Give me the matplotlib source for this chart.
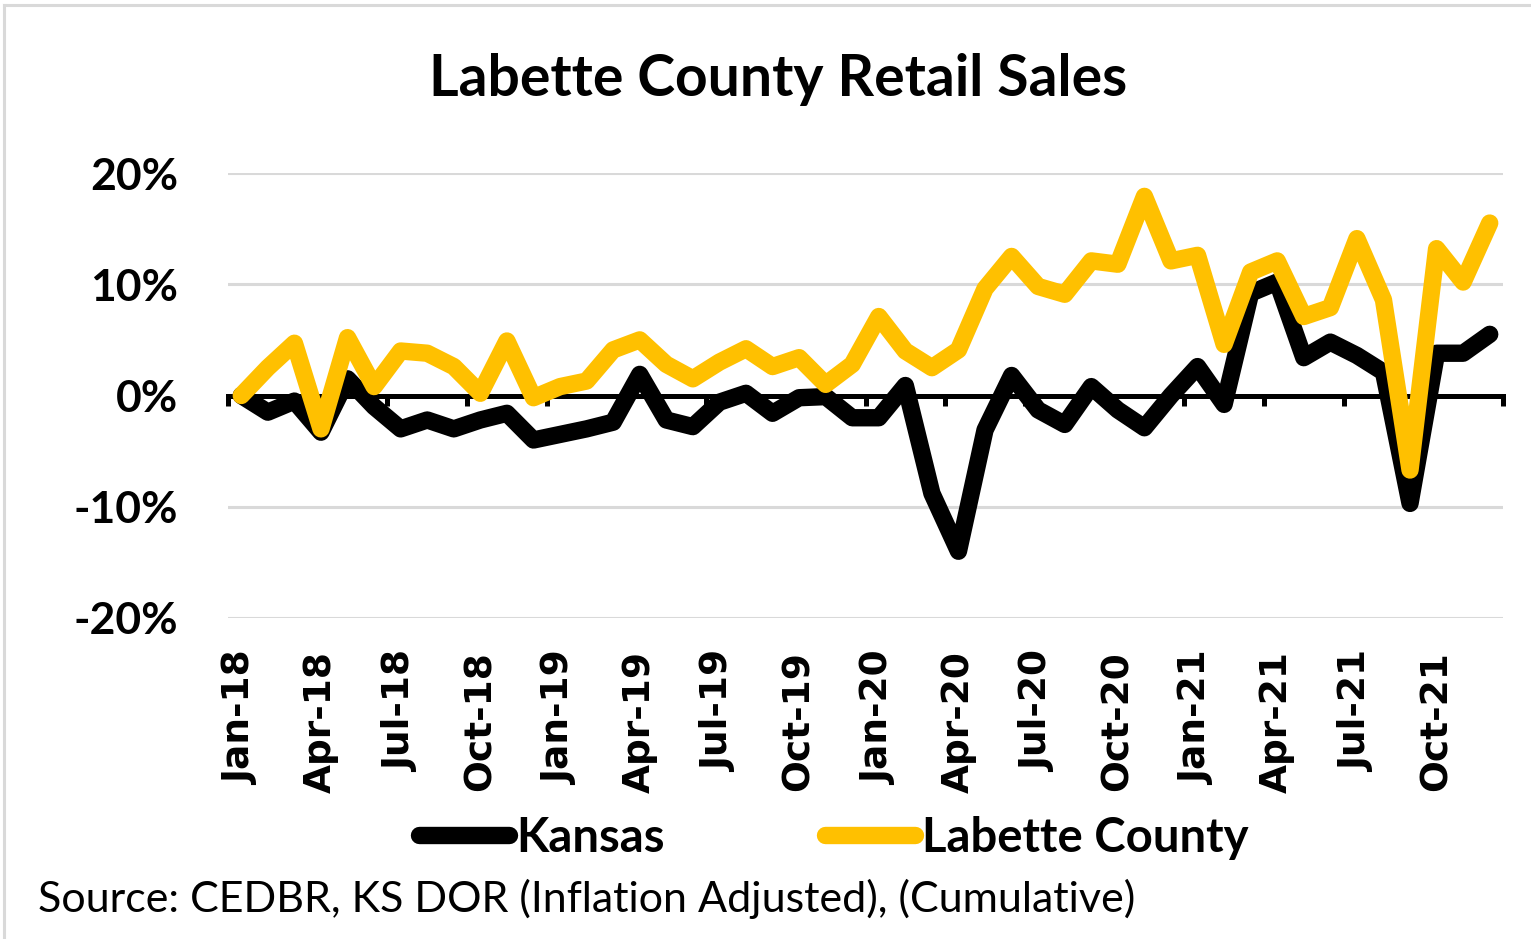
import numpy as np
import pandas as pd
import matplotlib
matplotlib.use('Agg')
import matplotlib.pyplot as plt
from matplotlib.lines import Line2D

# monthly cumulative retail sales change (%), Jan-18 .. Dec-21
months = list(pd.date_range('2018-01-01', periods=48, freq='MS').strftime('%b-%y'))

kansas = [0, -1.5, -0.5, -3.3, 1.5, -1.0, -3.0, -2.2, -3.0, -2.2,
          -1.6, -4.0, -3.5, -3.0, -2.4, 1.9, -2.2, -2.8, -0.6, 0.2,
          -1.6, -0.2, -0.1, -2.0, -2.0, 0.9, -8.8, -14.0, -3.1, 1.8,
          -1.3, -2.6, 0.8, -1.3, -2.9, 0.0, 2.6, -0.8, 9.2, 10.2,
          3.4, 4.8, 3.6, 2.1, -9.7, 3.8, 3.8, 5.5]

labette = [0, 2.5, 4.7, -3.0, 5.2, 0.8, 4.0, 3.8, 2.6, 0.2,
           4.9, -0.2, 0.8, 1.3, 4.1, 5.0, 2.8, 1.5, 3.0, 4.2,
           2.6, 3.4, 1.0, 2.8, 7.1, 4.0, 2.5, 4.1, 9.6, 12.5,
           9.8, 9.1, 12.1, 11.8, 17.9, 12.1, 12.6, 4.6, 11.1, 12.1,
           7.1, 7.9, 14.1, 8.6, -6.7, 13.2, 10.2, 15.5]

y_ticks = [-20, -10, 0, 10, 20]

gold = '#FFC000'
grid_col = '#D9D9D9'
font = ['Lato', 'DejaVu Sans']

fig = plt.figure(figsize=(15.31, 9.39), dpi=100)
ax = fig.add_axes([228/1531, 1 - 618/939, (1503 - 228)/1531, (618 - 173)/939])

x = np.arange(len(months))

# gridlines and zero axis
for v in y_ticks:
    if v != 0:
        ax.axhline(v, color=grid_col, lw=2.2, zorder=0)

ax.plot(x, kansas, color='black', lw=12.5, solid_joinstyle='round',
        solid_capstyle='round', label='Kansas', zorder=3)
ax.plot(x, labette, color=gold, lw=12.5, solid_joinstyle='round',
        solid_capstyle='round', label='Labette County', zorder=4)

ax.set_xlim(-0.5, len(months) - 0.5)
ax.set_ylim(-20, 20)

for s in ['top', 'right', 'left']:
    ax.spines[s].set_visible(False)
ax.spines['bottom'].set_position(('data', 0))
ax.spines['bottom'].set_linewidth(3.6)
ax.spines['bottom'].set_zorder(2)

# tick marks on the zero line at category boundaries
ax.set_xticks(np.arange(-0.5, len(months), 3))
ax.set_xticklabels([])
ax.tick_params(axis='x', direction='out', length=7, width=3.6, color='black')

# month labels along the bottom
sec = ax.secondary_xaxis('bottom')
sec.set_xticks(x[::3])
sec.set_xticklabels(months[::3], rotation=90, fontsize=27,
                    fontweight='bold', family='DejaVu Sans')
sec.tick_params(length=0, pad=24)
sec.spines['bottom'].set_visible(False)

ax.set_yticks(y_ticks)
ax.set_yticklabels([f'{v}%' for v in y_ticks], fontsize=32,
                   fontweight='bold', family=font)
ax.tick_params(axis='y', length=0, pad=36)

fig.text(778/1531, 1 - 80/939, 'Labette County Retail Sales', ha='center',
         va='center', fontsize=41, fontweight='bold', family=font)

handles = [Line2D([], [], color='black', lw=12.5, solid_capstyle='round'),
           Line2D([], [], color=gold, lw=12.5, solid_capstyle='round')]
leg = fig.legend(handles, ['Kansas', 'Labette County'], ncol=2, loc='center',
                 bbox_to_anchor=(834/1531, 1 - 838/939), frameon=False,
                 handlelength=1.9, handletextpad=0.15, columnspacing=3.4,
                 prop={'family': font, 'weight': 'bold', 'size': 34})

fig.text(38/1531, 1 - 899/939,
         'Source: CEDBR, KS DOR (Inflation Adjusted), (Cumulative)',
         ha='left', va='center', fontsize=31, family=font)

# light frame at top and left
fig.add_artist(Line2D([4/1531, 4/1531], [0, 1 - 5/939], color=grid_col,
                      lw=2.2, transform=fig.transFigure))
fig.add_artist(Line2D([4/1531, 1], [1 - 5/939, 1 - 5/939], color=grid_col,
                      lw=2.2, transform=fig.transFigure))

fig.savefig('out.png', dpi=100, facecolor='white')
